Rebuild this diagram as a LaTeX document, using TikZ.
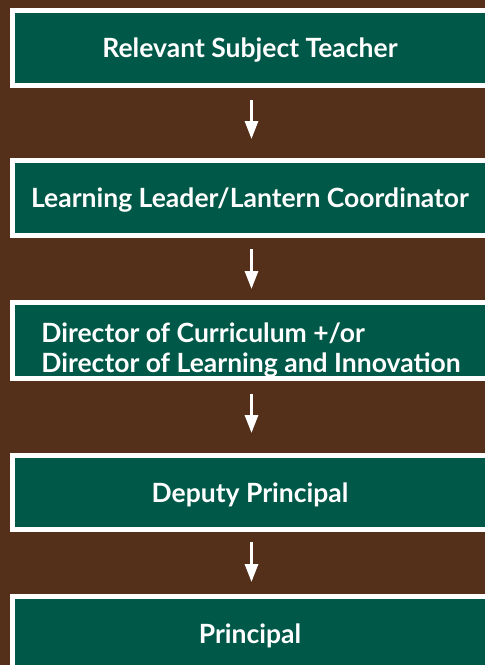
\documentclass[tikz,border=0pt]{standalone}
\usepackage{fontspec}
\setmainfont{Lato}
\usetikzlibrary{arrows.meta}
\definecolor{bgbrown}{RGB}{84,48,26}
\definecolor{boxgreen}{RGB}{0,88,72}
\tikzset{
  stepbox/.style={draw=white, line width=5pt, fill=boxgreen, minimum width=475pt,
    minimum height=75pt, outer sep=0pt, inner sep=0pt, text=white,
    text height=19pt, text depth=0pt,
    font=\bfseries\fontsize{26.5}{30}\selectfont},
  boxtext/.style={text=white, inner sep=0pt, align=left,
    font=\bfseries\fontsize{26.5}{30}\selectfont},
  arr/.style={draw=white, line width=3pt, -{Triangle[width=13pt,length=18pt]}}
}
\begin{document}
\begin{tikzpicture}[x=1pt,y=-1pt]
\useasboundingbox (0,0) rectangle (485,665);
\clip (0,0) rectangle (485,665);
\fill[bgbrown] (0,0) rectangle (485,665);
\node[stepbox] (b1) at (250,48) {Relevant Subject Teacher};
\node[stepbox] (b2) at (250,198) {Learning Leader/Lantern Coordinator};
\node[stepbox, minimum height=76pt] (b3) at (250,340.5) {};
\node[boxtext, xshift=1pt, yshift=-10pt] (b3t) at (b3.center) {Director of Curriculum +/or\\Director of Learning and Innovation};
\node[stepbox, minimum height=74pt] (b4) at (250,492.5) {Deputy Principal};
\node[stepbox] (b5) at (250,634) {Principal};
\draw[arr, shorten <=14.5pt, shorten >=21.5pt] ([xshift=1.5pt]b1.south) -- ([xshift=1.5pt]b2.north);
\draw[arr, shorten <=13.5pt, shorten >=13.5pt] ([xshift=1.5pt]b2.south) -- ([xshift=1.5pt]b3.north);
\draw[arr, shorten <=15.5pt, shorten >=22.5pt] ([xshift=1.5pt]b3.south) -- ([xshift=1.5pt]b4.north);
\draw[arr, shorten <=12.5pt, shorten >=14.5pt] ([xshift=1.5pt]b4.south) -- ([xshift=1.5pt]b5.north);
\end{tikzpicture}
\end{document}
